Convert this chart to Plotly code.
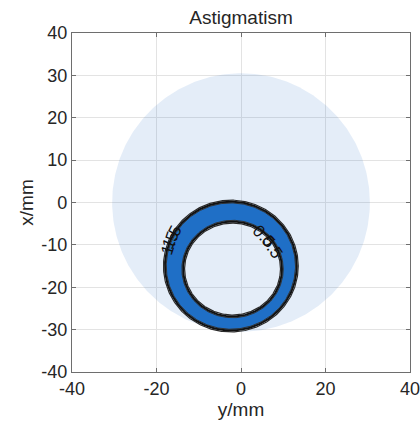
import numpy as np
import plotly.graph_objects as go

# ---- data ----
title_text = "Astigmatism"
x_label = "y/mm"
y_label = "x/mm"
xtick_vals = [-40, -20, 0, 20, 40]
ytick_vals = [-40, -30, -20, -10, 0, 10, 20, 30, 40]

pupil_center = [0.0, 0.0]
pupil_radius = 30.5

ring_outer_center = [-2.4, -15.0]
ring_outer_radii = [15.6, 15.2]
ring_inner_center = [-2.0, -15.7]
ring_inner_radii = [11.7, 11.2]

contour_labels = ["1.5", "1.5", "0.5", "0.5"]
label_x = [-16.9, -16.4, 5.4, 7.4]
label_y = [-9.6, -8.2, -8.0, -10.6]
label_angle = [-72, -64, 46, 56]

# ---- geometry helpers ----
t = np.linspace(0, 2 * np.pi, 361)


def ellipse(c, r, reverse=False):
    tt = t[::-1] if reverse else t
    return c[0] + r[0] * np.cos(tt), c[1] + r[1] * np.sin(tt)


fig = go.Figure()

# pupil (light, translucent so grid shows through)
px, py = ellipse(pupil_center, [pupil_radius, pupil_radius])
fig.add_trace(go.Scatter(x=px, y=py, mode="lines", fill="toself",
                         fillcolor="rgba(30,110,200,0.12)",
                         line=dict(width=0), hoverinfo="skip", showlegend=False))

# ring fill (outer path then inner reversed -> hole)
ox, oy = ellipse(ring_outer_center, ring_outer_radii)
ix, iy = ellipse(ring_inner_center, ring_inner_radii, reverse=True)
fig.add_trace(go.Scatter(x=np.concatenate([ox, ix]), y=np.concatenate([oy, iy]),
                         mode="lines", fill="toself", fillcolor="#1F6FC6",
                         line=dict(width=0), hoverinfo="skip", showlegend=False))

# contour lines (near-coincident lines, as in the reference)
for dr, col, w in [(0.0, "#111111", 2.0), (0.35, "#2a2a2a", 1.2), (-0.3, "#333333", 1.0)]:
    ax_, ay_ = ellipse(ring_outer_center, [ring_outer_radii[0] + dr, ring_outer_radii[1] + dr])
    fig.add_trace(go.Scatter(x=ax_, y=ay_, mode="lines", line=dict(color=col, width=w),
                             hoverinfo="skip", showlegend=False))
    bx_, by_ = ellipse(ring_inner_center, [ring_inner_radii[0] - dr, ring_inner_radii[1] - dr])
    fig.add_trace(go.Scatter(x=bx_, y=by_, mode="lines", line=dict(color=col, width=w),
                             hoverinfo="skip", showlegend=False))

font_main = "Liberation Sans, Arial, Helvetica, sans-serif"
text_col = "#262626"

for txt, lx, ly, ang in zip(contour_labels, label_x, label_y, label_angle):
    fig.add_annotation(x=lx, y=ly, text=txt, showarrow=False, textangle=ang,
                       font=dict(family=font_main, size=17, color="#111111"))

axis_common = dict(
    range=[-40, 40], showgrid=True, gridcolor="#E3E3E3", gridwidth=1,
    zeroline=False, showline=True, linecolor="#6E6E6E", linewidth=1.2,
    mirror="ticks", ticks="inside", ticklen=4, tickcolor="#6E6E6E",
    tickfont=dict(family=font_main, size=18, color=text_col),
    automargin=False, ticklabeloverflow="allow",
)

fig_w, fig_h = 420, 425

fig.update_layout(
    width=fig_w, height=fig_h,
    margin=dict(l=72, r=10, t=33, b=53),
    paper_bgcolor="white", plot_bgcolor="white",
    title=dict(text=title_text, x=0.5, xref="paper", xanchor="center",
               y=1 - 17 / fig_h, yref="container", yanchor="middle",
               font=dict(family=font_main, size=19, color=text_col)),
    xaxis=dict(axis_common, tickvals=xtick_vals,
               ticktext=[str(v) for v in xtick_vals],
               title=dict(text=x_label, standoff=2,
                          font=dict(family=font_main, size=19, color=text_col))),
    yaxis=dict(axis_common, tickvals=ytick_vals,
               ticktext=[str(v) for v in ytick_vals],
               title=dict(text=y_label, standoff=2,
                          font=dict(family=font_main, size=19, color=text_col))),
)

fig.write_html(
    "out.html",
    config={"displayModeBar": False},
    post_script="document.body.style.margin='0';document.body.style.overflow='hidden';",
)
